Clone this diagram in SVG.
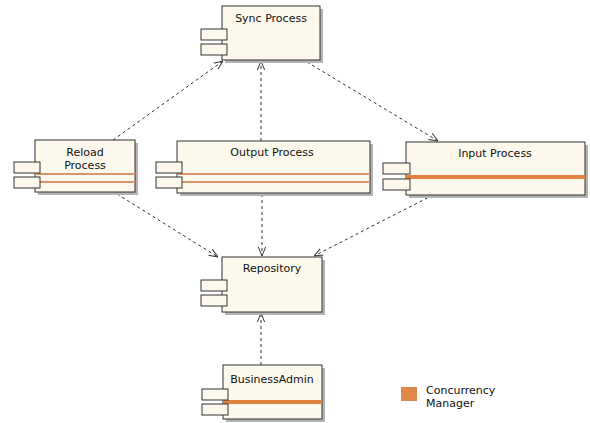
<svg xmlns="http://www.w3.org/2000/svg" width="590" height="423" viewBox="0 0 590 423">
  <defs>
    <marker id="open" viewBox="0 0 10 10" refX="10" refY="5" markerWidth="9" markerHeight="9" markerUnits="userSpaceOnUse" orient="auto">
      <path d="M0,1 L10,5 L0,9" fill="none" stroke="#333" stroke-width="1.1"/>
    </marker>
    <style>
      .shadow { fill: #b4b4b4; }
      .body { fill: #fdf8ec; stroke: #333; stroke-width: 1; }
      .port { fill: #fdf8ec; stroke: #333; stroke-width: 1; }
      .lbl { font-family: "DejaVu Sans", "Liberation Sans", sans-serif; font-size: 11px; fill: #111; text-anchor: middle; }
      .thin { stroke: #d9956a; stroke-width: 2; }
      .thick { stroke: #e0823e; stroke-width: 4; }
      .dep { fill: none; stroke: #333; stroke-width: 1; stroke-dasharray: 3 3; marker-end: url(#open); }
    </style>
  </defs>
  <rect width="590" height="423" fill="#fff"/>

  <g id="connectors">
    <line class="dep" x1="113" y1="140" x2="223" y2="61"/>
    <line class="dep" x1="261" y1="141" x2="261" y2="61"/>
    <line class="dep" x1="307" y1="62" x2="438" y2="141"/>
    <line class="dep" x1="117" y1="194" x2="218" y2="257"/>
    <line class="dep" x1="262" y1="194" x2="262" y2="256"/>
    <line class="dep" x1="433" y1="195" x2="314" y2="256"/>
    <line class="dep" x1="261" y1="365" x2="261" y2="313"/>
  </g>

  <g id="sync-process">
    <rect class="shadow" x="225" y="9" width="98" height="54"/>
    <rect class="body" x="222" y="6" width="98" height="54"/>
    <rect class="port" x="201" y="29" width="26" height="11"/>
    <rect class="port" x="201" y="44" width="26" height="11"/>
    <text class="lbl" x="271" y="22">Sync Process</text>
  </g>

  <g id="reload-process">
    <rect class="shadow" x="38" y="143" width="100" height="52"/>
    <rect class="body" x="35" y="140" width="100" height="52"/>
    <line class="thin" x1="35" y1="174" x2="135" y2="174"/>
    <line class="thin" x1="35" y1="182" x2="135" y2="182"/>
    <rect class="port" x="14" y="162" width="26" height="11"/>
    <rect class="port" x="14" y="177" width="26" height="11"/>
    <text class="lbl" x="85" y="156">Reload</text>
    <text class="lbl" x="85" y="169">Process</text>
  </g>

  <g id="output-process">
    <rect class="shadow" x="180" y="144" width="193" height="52"/>
    <rect class="body" x="177" y="141" width="193" height="52"/>
    <line class="thin" x1="177" y1="174" x2="370" y2="174"/>
    <line class="thin" x1="177" y1="182" x2="370" y2="182"/>
    <rect class="port" x="156" y="162" width="26" height="11"/>
    <rect class="port" x="156" y="177" width="26" height="11"/>
    <text class="lbl" x="272" y="156">Output Process</text>
  </g>

  <g id="input-process">
    <rect class="shadow" x="409" y="145" width="179" height="53"/>
    <rect class="body" x="406" y="142" width="179" height="53"/>
    <line class="thick" x1="406" y1="177" x2="585" y2="177"/>
    <rect class="port" x="383" y="163" width="27" height="11"/>
    <rect class="port" x="383" y="179" width="27" height="11"/>
    <text class="lbl" x="495" y="157">Input Process</text>
  </g>

  <g id="repository">
    <rect class="shadow" x="225" y="260" width="100" height="55"/>
    <rect class="body" x="222" y="257" width="100" height="55"/>
    <rect class="port" x="201" y="280" width="26" height="11"/>
    <rect class="port" x="201" y="295" width="26" height="11"/>
    <text class="lbl" x="272" y="272">Repository</text>
  </g>

  <g id="business-admin">
    <rect class="shadow" x="226" y="368" width="99" height="54"/>
    <rect class="body" x="223" y="365" width="99" height="54"/>
    <line class="thick" x1="223" y1="402" x2="322" y2="402"/>
    <rect class="port" x="202" y="389" width="26" height="11"/>
    <rect class="port" x="202" y="404" width="26" height="11"/>
    <text class="lbl" x="272" y="383">BusinessAdmin</text>
  </g>

  <g id="legend">
    <rect x="401" y="387" width="16" height="14" fill="#e0884a"/>
    <text x="426" y="394" font-family="DejaVu Sans, Liberation Sans, sans-serif" font-size="11" fill="#111">Concurrency</text>
    <text x="426" y="407" font-family="DejaVu Sans, Liberation Sans, sans-serif" font-size="11" fill="#111">Manager</text>
  </g>
</svg>
